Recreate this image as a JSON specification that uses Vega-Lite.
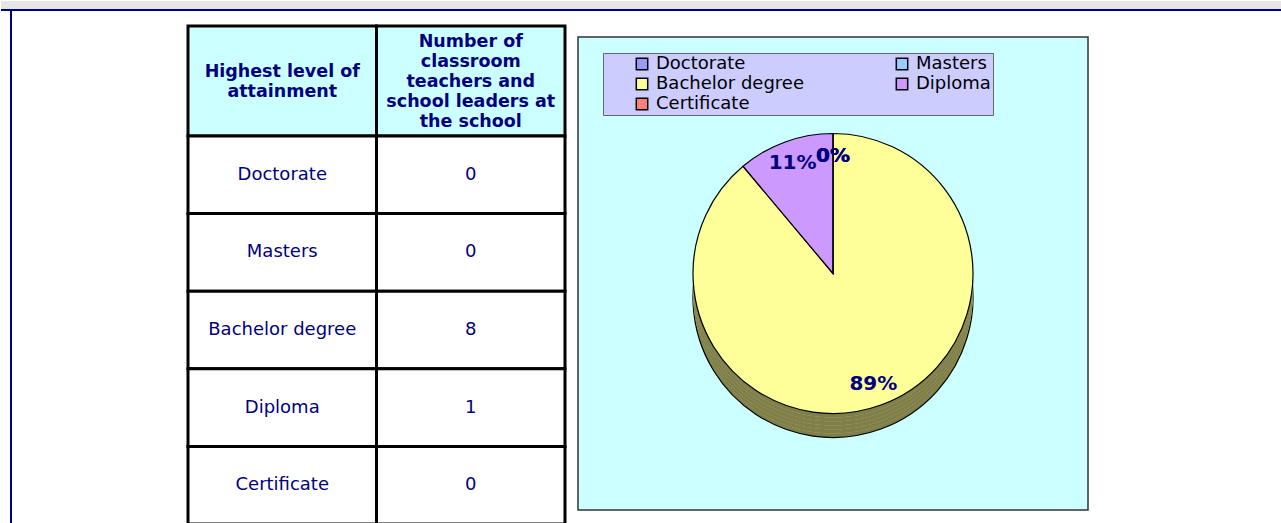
{
  "$schema": "https://vega.github.io/schema/vega-lite/v6.json",
  "padding": 0,
  "background": "white",
  "spacing": 0,
  "bounds": "flush",
  "config": {"view": {"stroke": null}, "font": "DejaVu Sans"},
  "resolve": {"scale": {"color": "independent"}, "legend": {"color": "independent"}},
  "datasets": {
    "attainment": [
      {"level": "Doctorate", "count": 0, "label": "0%"},
      {"level": "Masters", "count": 0, "label": "0%"},
      {"level": "Bachelor degree", "count": 8, "label": "89%"},
      {"level": "Diploma", "count": 1, "label": "11%"},
      {"level": "Certificate", "count": 0, "label": "0%"}
    ],
    "header": [
      {"col": "level", "lines": ["Highest level of", "attainment"]},
      {"col": "count", "lines": ["Number of", "classroom", "teachers and", "school leaders at", "the school"]}
    ]
  },
  "vconcat": [
    {
      "width": 1281, "height": 9,
      "view": {"fill": "#e6e6e6", "stroke": "#000080", "strokeWidth": 2, "strokeDash": [0, 1290, 1281, 9]},
      "data": {"values": []},
      "mark": {"type": "text"},
      "encoding": {"text": {"value": ""}}
    },
    {
      "spacing": 0,
      "resolve": {"scale": {"color": "independent"}, "legend": {"color": "independent"}},
      "hconcat": [
        {
          "width": 9, "height": 1,
          "data": {"values": []},
          "mark": {"type": "text"},
          "encoding": {"text": {"value": ""}}
        },
        {
          "width": 174, "height": 514,
          "view": {"stroke": "#000080", "strokeWidth": 2, "strokeDash": [0, 862, 514, 0]},
          "data": {"values": []},
          "mark": {"type": "text"},
          "encoding": {"text": {"value": ""}}
        },
        {
          "spacing": 0,
          "bounds": "flush",
          "vconcat": [
            {
              "width": 377, "height": 16,
              "data": {"values": []},
              "mark": {"type": "text"},
              "encoding": {"text": {"value": ""}}
            },
            {
              "width": 377, "height": 110,
              "data": {"name": "header"},
              "encoding": {
                "x": {"field": "col", "type": "nominal", "axis": null,
                      "scale": {"domain": ["level", "count"], "paddingInner": 0, "paddingOuter": 0}}
              },
              "layer": [
                {"mark": {"type": "rect", "fill": "#ccffff", "stroke": "black", "strokeWidth": 3}},
                {"transform": [{"filter": "datum.col === 'level'"}],
                 "mark": {"type": "text", "font": "DejaVu Sans", "fontWeight": "bold", "fontSize": 17.5,
                          "color": "#000080", "lineHeight": 20, "baseline": "middle", "align": "center", "dy": -9},
                 "encoding": {"text": {"field": "lines"}}},
                {"transform": [{"filter": "datum.col === 'count'"}],
                 "mark": {"type": "text", "font": "DejaVu Sans", "fontWeight": "bold", "fontSize": 17.5,
                          "color": "#000080", "lineHeight": 20, "baseline": "middle", "align": "center", "dy": -39},
                 "encoding": {"text": {"field": "lines"}}}
              ]
            },
            {
              "width": 377, "height": 388,
              "data": {"name": "attainment"},
              "transform": [{"fold": ["level", "count"], "as": ["key", "value"]}],
              "encoding": {
                "x": {"field": "key", "type": "nominal", "axis": null,
                      "scale": {"domain": ["level", "count"], "paddingInner": 0, "paddingOuter": 0}},
                "y": {"field": "level", "type": "nominal", "axis": null, "sort": null,
                      "scale": {"paddingInner": 0, "paddingOuter": 0}}
              },
              "layer": [
                {"mark": {"type": "rect", "fill": "white", "stroke": "black", "strokeWidth": 3}},
                {"mark": {"type": "text", "font": "DejaVu Sans", "fontSize": 18, "color": "#000080",
                          "baseline": "middle", "align": "center"},
                 "encoding": {"text": {"field": "value", "type": "nominal"}}}
              ]
            }
          ]
        },
        {
          "width": 10, "height": 1,
          "data": {"values": []},
          "mark": {"type": "text"},
          "encoding": {"text": {"value": ""}}
        },
        {
          "spacing": 0,
          "bounds": "flush",
          "resolve": {"scale": {"color": "independent"}, "legend": {"color": "independent"}},
          "vconcat": [
            {
              "width": 510, "height": 27,
              "data": {"values": []},
              "mark": {"type": "text"},
              "encoding": {"text": {"value": ""}}
            },
            {
              "width": 510, "height": 473,
              "view": {"fill": "#ccffff", "stroke": "#333333", "strokeWidth": 1.5},
              "data": {"name": "attainment"},
              "encoding": {
                "theta": {"field": "count", "type": "quantitative", "stack": true},
                "order": {"field": "count", "type": "quantitative", "sort": "descending"},
                "color": {"field": "level", "type": "nominal",
                   "scale": {"domain": ["Doctorate", "Masters", "Bachelor degree", "Diploma", "Certificate"],
                             "range": ["#9999ff", "#99ccff", "#ffff99", "#cc99ff", "#ff8080"]},
                   "legend": {"orient": "none", "legendX": 25, "legendY": 16,
                              "values": ["Doctorate", "Bachelor degree", "Certificate", "Masters", "Diploma"],
                              "title": null, "columns": 2, "gridAlign": "all",
                              "columnPadding": 61, "rowPadding": 2, "padding": 2,
                              "fillColor": "#ccccff", "strokeColor": "#666666",
                              "symbolType": "square", "symbolSize": 130, "symbolStrokeColor": "black",
                              "symbolStrokeWidth": 1.5, "symbolOffset": 28,
                              "labelFont": "DejaVu Sans", "labelFontSize": 18, "labelColor": "black", "labelOffset": 5}}
              },
              "layer": [
                {"mark": {"type": "arc", "outerRadius": 140, "yOffset": 24, "stroke": "black", "strokeWidth": 1.2}},
                {"mark": {"type": "arc", "outerRadius": 140, "yOffset": 24, "fill": "black", "fillOpacity": 0.5}},
                {"mark": {"type": "arc", "outerRadius": 140, "yOffset": 20}},
                {"mark": {"type": "arc", "outerRadius": 140, "yOffset": 20, "fill": "black", "fillOpacity": 0.5}},
                {"mark": {"type": "arc", "outerRadius": 140, "yOffset": 16}},
                {"mark": {"type": "arc", "outerRadius": 140, "yOffset": 16, "fill": "black", "fillOpacity": 0.5}},
                {"mark": {"type": "arc", "outerRadius": 140, "yOffset": 12}},
                {"mark": {"type": "arc", "outerRadius": 140, "yOffset": 12, "fill": "black", "fillOpacity": 0.5}},
                {"mark": {"type": "arc", "outerRadius": 140, "yOffset": 8}},
                {"mark": {"type": "arc", "outerRadius": 140, "yOffset": 8, "fill": "black", "fillOpacity": 0.5}},
                {"mark": {"type": "arc", "outerRadius": 140, "yOffset": 4}},
                {"mark": {"type": "arc", "outerRadius": 140, "yOffset": 4, "fill": "black", "fillOpacity": 0.5}},
                {"mark": {"type": "arc", "outerRadius": 140, "stroke": "black", "strokeWidth": 1.2}},
                {"mark": {"type": "text", "radius": 118, "font": "DejaVu Sans", "fontWeight": "bold", "fontSize": 20,
                          "baseline": "middle"},
                 "encoding": {"text": {"field": "label"}, "color": {"value": "#000080"}}}
              ]
            }
          ]
        }
      ]
    }
  ]
}
